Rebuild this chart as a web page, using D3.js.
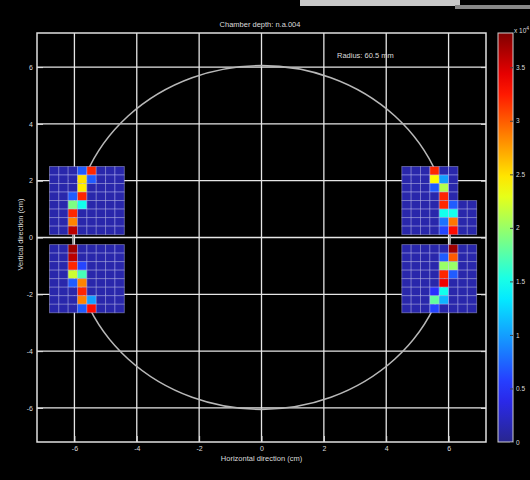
<!DOCTYPE html>
<html><head><meta charset="utf-8">
<script src="https://cdn.jsdelivr.net/npm/d3@7"></script>
<style>
html,body{margin:0;padding:0;background:#000;}
svg{display:block;}
text{font-family:"Liberation Sans",Arial,sans-serif;fill:#dcdcdc;}
</style></head>
<body>
<svg id="chart" width="530" height="480"></svg>
<script>
// ---- data ----
const title = "Chamber depth: n.a.004";
const radiusLabel = "Radius: 60.5 mm";
const xLabel = "Horizontal direction (cm)";
const yLabel = "Vertical direction (cm)";
const axisTicks = [-6, -4, -2, 0, 2, 4, 6];
const colorTicks = [0, 0.5, 1, 1.5, 2, 2.5, 3, 3.5];
const colorMax = 3.82;
const circleRadius = 6.05;
const cellSize = 0.3;
const b = 0.12; // background level
// block origins (left x, top y) in cm
const blockX0 = [-6.8, -6.8, 4.5, 4.5];
const blockYTop = [2.5, -0.25, 2.5, -0.25];
// cell values per block (rows top to bottom), null = no cell
const blockLT = [
  [b,b,b,0.7,3.2,b,b,b],
  [b,b,b,2.5,0.7,b,b,b],
  [b,b,b,2.45,b,b,b,b],
  [b,b,0.7,3.2,b,b,b,b],
  [b,b,1.9,1.5,b,b,b,b],
  [b,b,3.2,b,b,b,b,b],
  [b,b,2.85,b,b,b,b,b],
  [b,b,3.6,b,b,b,b,b]
];
const blockLB = [
  [b,b,3.7,b,b,b,b,b],
  [b,b,3.6,b,b,b,b,b],
  [b,b,3.2,0.6,b,b,b,b],
  [b,b,2.2,1.7,b,b,b,b],
  [b,b,0.7,2.85,b,b,b,b],
  [b,b,b,3.2,b,b,b,b],
  [b,b,b,2.85,1.0,b,b,b],
  [b,b,b,0.7,3.3,b,b,b]
];
const blockRT = [
  [b,b,b,3.2,b,b,null,null],
  [b,b,b,2.4,1.0,b,null,null],
  [b,b,b,0.7,2.1,b,null,null],
  [b,b,b,b,3.2,b,null,null],
  [b,b,b,b,3.2,0.7,b,b],
  [b,b,b,b,1.5,1.5,b,b],
  [b,b,b,b,0.8,2.9,b,b],
  [b,b,b,b,0.6,3.3,b,b]
];
const blockRB = [
  [b,b,b,b,b,3.7,b,b],
  [b,b,b,b,0.7,3.0,b,b],
  [b,b,b,b,2.0,2.0,b,b],
  [b,b,b,b,3.2,0.7,b,b],
  [b,b,b,b,3.4,b,b,b],
  [b,b,b,0.5,1.5,b,b,b],
  [b,b,b,1.8,1.1,b,b,b],
  [b,b,b,0.6,b,b,b,b]
];
const blocks = [blockLT, blockLB, blockRT, blockRB];

// ---- layout ----
const svg = d3.select("#chart");
const L = 37, R = 486, T = 33, B = 442;
const x = d3.scaleLinear().domain([-7.2, 7.2]).range([L, R]);
const y = d3.scaleLinear().domain([-7.2, 7.2]).range([B, T]);
const jet = d3.scaleLinear()
  .domain([0, 0.125, 0.375, 0.625, 0.875, 1].map(t => t * colorMax))
  .range(["#28268f", "#2a2aff", "#00ffff", "#ffff00", "#ff0000", "#800000"])
  .clamp(true);

// top artifact bar
svg.append("rect").attr("x", 300).attr("y", 0).attr("width", 160).attr("height", 6).attr("fill", "#c8c8c8");
svg.append("rect").attr("x", 455).attr("y", 5).attr("width", 75).attr("height", 4).attr("fill", "#888");

// grid
const g = svg.append("g");
g.selectAll("line.vg").data(axisTicks).join("line")
  .attr("x1", d => x(d)).attr("x2", d => x(d)).attr("y1", T).attr("y2", B)
  .attr("stroke", "#e6e6e6").attr("stroke-width", 1.3);
g.selectAll("line.hg").data(axisTicks).join("line")
  .attr("y1", d => y(d)).attr("y2", d => y(d)).attr("x1", L).attr("x2", R)
  .attr("stroke", "#e6e6e6").attr("stroke-width", 1.3);

// circle
svg.append("ellipse")
  .attr("cx", x(0)).attr("cy", y(0))
  .attr("rx", x(circleRadius) - x(0)).attr("ry", y(0) - y(circleRadius))
  .attr("fill", "none").attr("stroke", "#b8b8b8").attr("stroke-width", 1.6);

// cells
blocks.forEach((blk, bi) => {
  const cells = [];
  blk.forEach((row, ri) => row.forEach((v, ci) => {
    if (v !== null) cells.push({ v, x0: blockX0[bi] + ci * cellSize, y0: blockYTop[bi] - ri * cellSize });
  }));
  const bg = svg.append("g");
  bg.selectAll("rect").data(cells).join("rect")
    .attr("x", d => x(d.x0)).attr("y", d => y(d.y0))
    .attr("width", d => x(d.x0 + cellSize) - x(d.x0))
    .attr("height", d => y(d.y0 - cellSize) - y(d.y0))
    .attr("fill", d => jet(d.v))
    .attr("stroke", "rgba(200,200,255,0.45)").attr("stroke-width", 0.9);
});

// frame
svg.append("rect").attr("x", L).attr("y", T).attr("width", R - L).attr("height", B - T)
  .attr("fill", "none").attr("stroke", "#e0e0e0").attr("stroke-width", 1.5);

// axes
const fmt = d => String(d);
const xAxis = d3.axisBottom(x).tickValues(axisTicks).tickSize(-6).tickPadding(4).tickFormat(fmt);
const gx = svg.append("g").attr("transform", `translate(0,${B})`).call(xAxis);
const yAxis = d3.axisLeft(y).tickValues(axisTicks).tickSize(-6).tickPadding(4).tickFormat(fmt);
const gy = svg.append("g").attr("transform", `translate(${L},0)`).call(yAxis);
const yAxisR = d3.axisRight(y).tickValues(axisTicks).tickSize(-5).tickFormat("");
const gyr = svg.append("g").attr("transform", `translate(${R},0)`).call(yAxisR);
[gx, gy, gyr].forEach(a => {
  a.select(".domain").remove();
  a.selectAll("line").attr("stroke", "#e0e0e0");
  a.selectAll("text").attr("font-size", 7).attr("fill", "#dcdcdc").attr("font-family", "Liberation Sans, Arial, sans-serif");
});

// titles
svg.append("text").attr("x", 260).attr("y", 27).attr("text-anchor", "middle").attr("font-size", 7.5).text(title);
svg.append("text").attr("x", 337).attr("y", 58).attr("font-size", 7.5).text(radiusLabel);
svg.append("text").attr("x", x(0)).attr("y", 461).attr("text-anchor", "middle").attr("font-size", 7.5).text(xLabel);
svg.append("text").attr("transform", `translate(23,${y(0) - 3}) rotate(-90)`).attr("text-anchor", "middle").attr("font-size", 7.5).text(yLabel);

// colorbar
const cbX = 498, cbW = 15;
const cy = d3.scaleLinear().domain([0, colorMax]).range([B, T]);
const defs = svg.append("defs");
const grad = defs.append("linearGradient").attr("id", "jet").attr("x1", 0).attr("y1", 1).attr("x2", 0).attr("y2", 0);
d3.range(0, 1.0001, 0.05).forEach(t => grad.append("stop").attr("offset", t).attr("stop-color", jet(t * colorMax)));
svg.append("rect").attr("x", cbX).attr("y", T).attr("width", cbW).attr("height", B - T)
  .attr("fill", "url(#jet)").attr("stroke", "#d0d0d0").attr("stroke-width", 1);
const cAxis = d3.axisRight(cy).tickValues(colorTicks).tickSize(-3).tickPadding(3).tickFormat(d => d);
const gc = svg.append("g").attr("transform", `translate(${cbX + cbW},0)`).call(cAxis);
gc.select(".domain").remove();
gc.selectAll("line").attr("stroke", "#444");
gc.selectAll("text").attr("font-size", 6.5).attr("fill", "#dcdcdc");
const ex = svg.append("text").attr("x", 514).attr("y", 33).attr("font-size", 6.5);
ex.append("tspan").text("x 10");
ex.append("tspan").attr("dy", -3).attr("font-size", 5).text("4");
</script>
</body></html>
